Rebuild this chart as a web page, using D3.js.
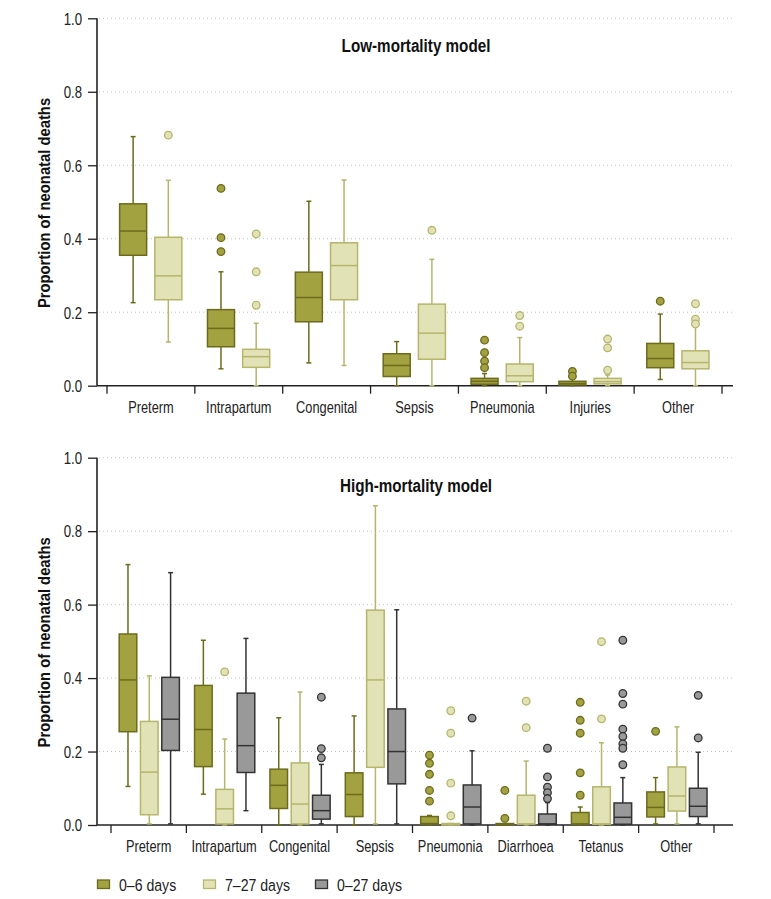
<!DOCTYPE html>
<html>
<head>
<meta charset="utf-8">
<script src="https://cdn.jsdelivr.net/npm/d3@7"></script>
<style>
  body { margin: 0; background: #fff; }
  svg { display: block; }
  text { font-family: "Liberation Sans", Arial, sans-serif; }
</style>
</head>
<body>
<svg id="chart" width="771" height="899"></svg>
<script>
// ---------------- DATA ----------------
// Each box: [whiskerLow, q1, median, q3, whiskerHigh]
const seriesNames = ["0–6 days", "7–27 days", "0–27 days"];
const yTicks = [0, 0.2, 0.4, 0.6, 0.8, 1.0];
const yTitle = "Proportion of neonatal deaths";

const lowTitle = "Low-mortality model";
const lowCategories = ["Preterm", "Intrapartum", "Congenital", "Sepsis", "Pneumonia", "Injuries", "Other"];
const low06 = [
  [0.226, 0.355, 0.421, 0.495, 0.678],
  [0.046, 0.106, 0.156, 0.207, 0.310],
  [0.062, 0.174, 0.240, 0.309, 0.502],
  [0.000, 0.025, 0.055, 0.087, 0.120],
  [0.000, 0.004, 0.012, 0.020, 0.033],
  [0.000, 0.002, 0.006, 0.012, 0.018],
  [0.017, 0.049, 0.074, 0.115, 0.195]
];
const low06Outliers = [[], [0.537, 0.403, 0.365], [], [], [0.124, 0.090, 0.067, 0.049], [0.039, 0.026], [0.230]];
const low727 = [
  [0.119, 0.234, 0.299, 0.404, 0.559],
  [0.000, 0.050, 0.079, 0.099, 0.170],
  [0.055, 0.234, 0.327, 0.389, 0.560],
  [0.000, 0.072, 0.143, 0.222, 0.344],
  [0.000, 0.011, 0.027, 0.059, 0.131],
  [0.000, 0.005, 0.011, 0.020, 0.029],
  [0.000, 0.046, 0.063, 0.095, 0.160]
];
const low727Outliers = [[0.682], [0.413, 0.310, 0.219], [], [0.423], [0.191, 0.162], [0.127, 0.103, 0.042], [0.223, 0.181, 0.168]];

const highTitle = "High-mortality model";
const highCategories = ["Preterm", "Intrapartum", "Congenital", "Sepsis", "Pneumonia", "Diarrhoea", "Tetanus", "Other"];
const high06 = [
  [0.105, 0.254, 0.395, 0.520, 0.709],
  [0.084, 0.159, 0.260, 0.380, 0.503],
  [0.000, 0.045, 0.108, 0.152, 0.292],
  [0.000, 0.023, 0.083, 0.142, 0.297],
  [0.000, 0.002, 0.004, 0.023, 0.026],
  [0.000, 0.001, 0.002, 0.004, 0.004],
  [0.000, 0.002, 0.003, 0.034, 0.049],
  [0.003, 0.022, 0.048, 0.090, 0.129]
];
const high06Outliers = [[], [], [], [], [0.190, 0.168, 0.138, 0.094, 0.065], [0.094, 0.018], [0.334, 0.285, 0.250, 0.142, 0.081], [0.255]];
const high727 = [
  [0.003, 0.028, 0.144, 0.282, 0.406],
  [0.000, 0.003, 0.044, 0.097, 0.234],
  [0.000, 0.003, 0.057, 0.169, 0.362],
  [0.003, 0.157, 0.395, 0.585, 0.869],
  [0.000, 0.001, 0.002, 0.004, 0.004],
  [0.000, 0.003, 0.003, 0.081, 0.174],
  [0.000, 0.002, 0.003, 0.104, 0.224],
  [0.003, 0.038, 0.079, 0.158, 0.267]
];
const high727Outliers = [[], [0.417], [], [], [0.311, 0.250, 0.114, 0.025], [0.337, 0.265], [0.499, 0.289], []];
const high027 = [
  [0.003, 0.203, 0.288, 0.402, 0.687],
  [0.039, 0.143, 0.216, 0.359, 0.508],
  [0.003, 0.016, 0.039, 0.081, 0.165],
  [0.003, 0.112, 0.200, 0.316, 0.586],
  [0.000, 0.003, 0.049, 0.109, 0.202],
  [0.000, 0.002, 0.003, 0.030, 0.061],
  [0.000, 0.002, 0.021, 0.060, 0.129],
  [0.003, 0.023, 0.051, 0.100, 0.198]
];
const high027Outliers = [[], [], [0.348, 0.208, 0.183], [], [0.291], [0.209, 0.131, 0.103, 0.088, 0.072], [0.503, 0.358, 0.329, 0.261, 0.241, 0.221, 0.209, 0.164], [0.353, 0.237]];

// ---------------- STYLE ----------------
const fills = ["#a3a240", "#e2e2b7", "#999999"];
const strokes = ["#6c6b1c", "#b5b56c", "#333333"];
const SX = 0.8;      // horizontal condensing of regular text
const SXB = 0.87;    // horizontal condensing of bold text

const svg = d3.select("#chart");
const axisX0 = 97, axisX1 = 733;

function condText(parent, x, y, str, opts) {
  const t = parent.append("text")
    .attr("transform", `translate(${x},${y})${opts.rotate ? " rotate(-90)" : ""} scale(${opts.sx},1)`)
    .attr("text-anchor", opts.anchor || "start")
    .attr("font-size", opts.size)
    .attr("fill", opts.fill || "#222")
    .text(str);
  if (opts.bold) t.attr("font-weight", "bold");
  return t;
}

function drawPanel(cfg) {
  const g = svg.append("g");
  const y = d3.scaleLinear().domain([0, 1]).range([cfg.yBottom, cfg.yTop]);
  const x = d3.scaleBand().domain(cfg.categories).range(cfg.xRange).paddingInner(0).paddingOuter(0);
  const nS = cfg.series.length;
  const inner = d3.scalePoint().domain(d3.range(nS)).range([-cfg.spread, cfg.spread]);

  // gridlines
  g.selectAll("line.grid").data(yTicks.filter(t => t > 0)).join("line")
    .attr("x1", axisX0 + 2).attr("x2", axisX1)
    .attr("y1", d => y(d)).attr("y2", d => y(d))
    .attr("stroke", "#c4c4c4").attr("stroke-width", 1).attr("stroke-dasharray", "1,3");

  // y axis
  const yAxis = d3.axisLeft(y).tickValues(yTicks).tickFormat(d3.format(".1f")).tickSize(9).tickPadding(5);
  const ya = g.append("g").attr("transform", `translate(${axisX0},0)`).call(yAxis);
  ya.select(".domain").attr("stroke", "#222").attr("stroke-width", 1.6).attr("d", `M0,${y(1)}V${y(0)}`);
  ya.selectAll(".tick line").attr("stroke", "#222").attr("stroke-width", 1.3);
  ya.selectAll(".tick text").attr("font-size", 16.5).attr("fill", "#222")
    .attr("x", 0).attr("dy", "0.35em")
    .attr("transform", `translate(-15,0) scale(${SX},1)`)
    .style("font-family", '"Liberation Sans", Arial, sans-serif');

  // x axis
  g.append("line").attr("x1", axisX0).attr("x2", axisX1).attr("y1", y(0)).attr("y2", y(0))
    .attr("stroke", "#222").attr("stroke-width", 1.6);
  const bounds = cfg.categories.map(c => x(c)).concat([x.range()[1]]);
  g.selectAll("line.xtick").data(bounds).join("line")
    .attr("x1", d => d).attr("x2", d => d).attr("y1", y(0)).attr("y2", y(0) + 8)
    .attr("stroke", "#222").attr("stroke-width", 1.3);
  cfg.categories.forEach(c => {
    condText(g, x(c) + x.bandwidth() / 2, y(0) + 27, c, { sx: SX, size: 16, anchor: "middle" });
  });

  // y title
  condText(g, 50, (y(0) + y(1)) / 2 + 1, yTitle, { sx: SXB, size: 17, anchor: "middle", bold: true, rotate: true, fill: "#111" });

  // panel title
  condText(g, 416, y(1) + 34, cfg.title, { sx: SXB, size: 17.5, anchor: "middle", bold: true, fill: "#111" });

  // boxes
  cfg.series.forEach((s, si) => {
    cfg.categories.forEach((cat, ci) => {
      const [lo, q1, med, q3, hi] = s.boxes[ci];
      const cx = x(cat) + x.bandwidth() / 2 + cfg.shift + inner(si);
      const w = cfg.boxW, cap = 2.5;
      const bg = g.append("g");
      const sc = strokes[si];
      // whiskers
      bg.append("line").attr("x1", cx).attr("x2", cx).attr("y1", y(hi)).attr("y2", y(q3)).attr("stroke", sc).attr("stroke-width", 1.5);
      bg.append("line").attr("x1", cx).attr("x2", cx).attr("y1", y(q1)).attr("y2", y(lo)).attr("stroke", sc).attr("stroke-width", 1.5);
      bg.append("line").attr("x1", cx - cap).attr("x2", cx + cap).attr("y1", y(hi)).attr("y2", y(hi)).attr("stroke", sc).attr("stroke-width", 1.5);
      bg.append("line").attr("x1", cx - cap).attr("x2", cx + cap).attr("y1", y(lo)).attr("y2", y(lo)).attr("stroke", sc).attr("stroke-width", 1.5);
      // box
      bg.append("rect").attr("x", cx - w / 2).attr("width", w)
        .attr("y", y(q3)).attr("height", Math.max(y(q1) - y(q3), 1.5))
        .attr("fill", fills[si]).attr("stroke", sc).attr("stroke-width", 1.5);
      bg.append("line").attr("x1", cx - w / 2).attr("x2", cx + w / 2).attr("y1", y(med)).attr("y2", y(med))
        .attr("stroke", sc).attr("stroke-width", 1.5);
      // outliers
      bg.selectAll("circle").data(s.outliers[ci]).join("circle")
        .attr("cx", cx).attr("cy", d => y(d)).attr("r", 3.8)
        .attr("fill", fills[si]).attr("stroke", sc).attr("stroke-width", 1.3);
    });
  });
}

drawPanel({
  title: lowTitle, categories: lowCategories,
  yTop: 18.3, yBottom: 385.7, xRange: [107, 722],
  spread: 17.6, shift: -0.2, boxW: 27,
  series: [{ boxes: low06, outliers: low06Outliers }, { boxes: low727, outliers: low727Outliers }]
});
drawPanel({
  title: highTitle, categories: highCategories,
  yTop: 457.7, yBottom: 825, xRange: [111, 714],
  spread: 21.3, shift: 0.6, boxW: 17.6,
  series: [{ boxes: high06, outliers: high06Outliers }, { boxes: high727, outliers: high727Outliers }, { boxes: high027, outliers: high027Outliers }]
});

// legend
const legX = [97.5, 203.5, 315.5];
const leg = svg.append("g");
seriesNames.forEach((name, i) => {
  leg.append("rect").attr("x", legX[i]).attr("y", 880).attr("width", 12).attr("height", 8.5)
    .attr("fill", fills[i]).attr("stroke", strokes[i]).attr("stroke-width", 1.3);
  condText(leg, legX[i] + 21.5, 890.5, name, { sx: 0.83, size: 17 });
});
</script>
</body>
</html>
